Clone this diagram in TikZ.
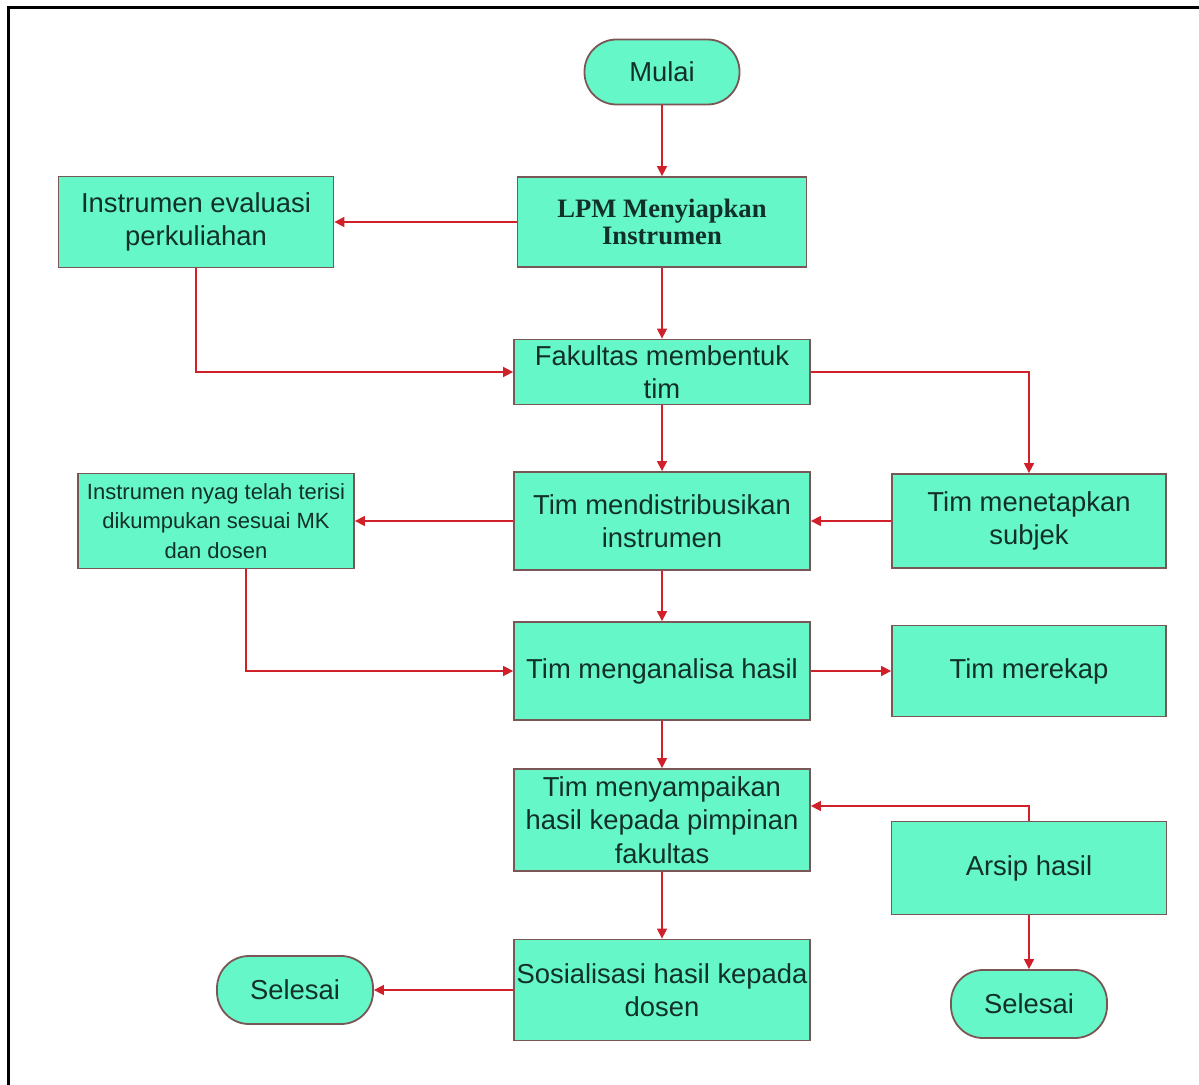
\documentclass[tikz,border=0pt]{standalone}
\usepackage{fontspec}
\setmainfont{Liberation Sans}
\newfontfamily\lpmfont{Liberation Serif}
\usetikzlibrary{arrows.meta}
\definecolor{boxfill}{HTML}{66F7C8}
\definecolor{boxline}{HTML}{7A5656}
\definecolor{linkred}{HTML}{D0202A}
\definecolor{txt}{HTML}{12302A}
\tikzset{
  box/.style={draw=boxline, fill=boxfill, line width=0.9pt, align=center, inner sep=0pt,
    text=txt, font=\fontsize{13.7}{16.7}\selectfont},
  term/.style={box, rounded corners=16pt},
  link/.style={draw=linkred, line width=0.8pt, -{Triangle[length=5pt,width=5pt]}},
}
\begin{document}
\begin{tikzpicture}[x=0.5pt, y=-0.5pt]
\useasboundingbox (0,0) rectangle (1199,1085);
\draw[line width=1.5pt] (8,1085) -- (8,8) -- (1199,8);
% main column
\node[term, minimum width=77.5pt, minimum height=32.5pt] (mulai) at (662,72) {Mulai};
\node[box, minimum width=144.5pt, minimum height=45pt,
  font=\lpmfont\bfseries\fontsize{13.3}{13.8}\selectfont] (lpm) at (662,222) {LPM Menyiapkan\\Instrumen};
\node[box, minimum width=148pt, minimum height=32.5pt] (fakultas) at (662,372) {Fakultas membentuk\\tim};
\node[box, minimum width=148pt, minimum height=49pt] (distribusi) at (662,521) {Tim mendistribusikan\\instrumen};
\node[box, minimum width=148pt, minimum height=49pt] (analisa) at (662,671) {Tim menganalisa hasil};
\node[box, minimum width=148pt, minimum height=51pt] (sampaikan) at (662,820) {Tim menyampaikan\\hasil kepada pimpinan\\fakultas};
\node[box, minimum width=148pt, minimum height=50.5pt] (sosialisasi) at (662,990) {Sosialisasi hasil kepada\\dosen};
% side boxes
\node[box, minimum width=137.5pt, minimum height=45.5pt] (evaluasi) at (196,222) {Instrumen evaluasi\\perkuliahan};
\node[box, minimum width=138pt, minimum height=47.5pt,
  font=\fontsize{11}{14.7}\selectfont] (terisi) at (216,521) {Instrumen nyag telah terisi\\dikumpukan sesuai MK\\dan dosen};
\node[box, minimum width=137pt, minimum height=47pt] (subjek) at (1029,521) {Tim menetapkan\\subjek};
\node[box, minimum width=137pt, minimum height=45.5pt] (rekap) at (1029,671) {Tim merekap};
\node[box, minimum width=137.5pt, minimum height=46.5pt] (arsip) at (1029,868) {Arsip hasil};
\node[term, minimum width=78pt, minimum height=34pt] (selesaiA) at (295,990) {Selesai};
\node[term, minimum width=78pt, minimum height=34pt] (selesaiB) at (1029,1004) {Selesai};
% connectors
\draw[link] (mulai) -- (lpm);
\draw[link] (lpm) -- (evaluasi);
\draw[link] (lpm) -- (fakultas);
\draw[link] (evaluasi.south) |- (fakultas.west);
\draw[link] (fakultas.east) -| (subjek.north);
\draw[link] (fakultas) -- (distribusi);
\draw[link] (subjek) -- (distribusi);
\draw[link] (distribusi) -- (terisi);
\draw[link] ([xshift=15pt]terisi.south) |- (analisa.west);
\draw[link] (distribusi) -- (analisa);
\draw[link] (analisa) -- (rekap);
\draw[link] (analisa) -- (sampaikan);
\draw[link] (arsip.north) |- ([yshift=7pt]sampaikan.east);
\draw[link] (arsip) -- (selesaiB);
\draw[link] (sampaikan) -- (sosialisasi);
\draw[link] (sosialisasi) -- (selesaiA);
\end{tikzpicture}
\end{document}
